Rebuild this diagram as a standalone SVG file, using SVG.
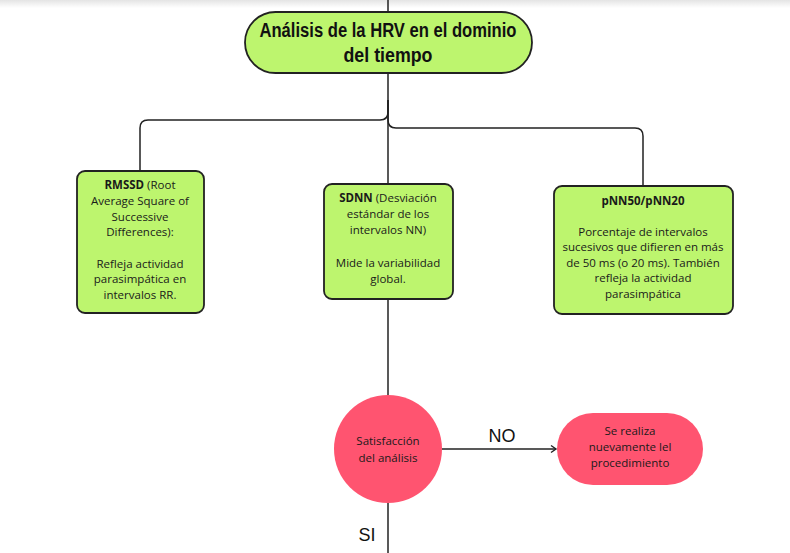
<svg xmlns="http://www.w3.org/2000/svg" width="790" height="553" viewBox="0 0 790 553">
<defs>
<linearGradient id="topshade" x1="0" y1="0" x2="0" y2="1">
<stop offset="0" stop-color="#e4e4e4"/>
<stop offset="1" stop-color="#ffffff"/>
</linearGradient>
<marker id="arrow" markerWidth="10" markerHeight="10" refX="8" refY="5" orient="auto" markerUnits="userSpaceOnUse">
<path d="M3,1.5 L8,5 L3,8.5" fill="none" stroke="#222" stroke-width="1.4"/>
</marker>
<style>
.conn{fill:none;stroke:#222;stroke-width:1.5}
.green{fill:#bdf56e;stroke:#222;stroke-width:1.8}
.red{fill:#ff5470;stroke:none}
.t{font-family:"Open Sans","Liberation Sans",sans-serif;font-size:11.5px;fill:#1a1a1a;text-anchor:middle}
.b{font-weight:bold}
.title{font-family:"Liberation Sans",sans-serif;font-weight:bold;font-size:20px;fill:#111;text-anchor:middle}
.lbl{font-family:"Liberation Sans",sans-serif;font-size:18px;fill:#111;text-anchor:middle}
</style>
</defs>
<rect x="0" y="0" width="790" height="553" fill="#ffffff"/>
<rect x="0" y="0" width="790" height="8" fill="url(#topshade)"/>
<g id="connectors">
<line class="conn" x1="388" y1="0" x2="388" y2="553"/>
<path class="conn" d="M388,100 V112 Q388,120 380,120 H148 Q140,120 140,128 V171"/>
<path class="conn" d="M388,100 V120 Q388,128 396,128 H635 Q643,128 643,136 V186"/>
<line class="conn" x1="442" y1="449" x2="556" y2="449" marker-end="url(#arrow)"/>
<text class="lbl" x="502" y="442">NO</text>
<text class="lbl" x="367" y="541">SI</text>
</g>
<g id="title">
<rect class="green" x="245" y="12" width="287" height="61" rx="30.5"/>
<text class="title" x="388" y="37" textLength="257" lengthAdjust="spacingAndGlyphs">Análisis de la HRV en el dominio</text>
<text class="title" x="388" y="62" textLength="89" lengthAdjust="spacingAndGlyphs">del tiempo</text>
</g>
<g id="rmssd">
<rect class="green" x="77" y="171" width="127" height="142" rx="8"/>
<text class="t" x="140" y="189"><tspan class="b">RMSSD</tspan> (Root</text>
<text class="t" x="140" y="205">Average Square of</text>
<text class="t" x="140" y="220.5">Successive</text>
<text class="t" x="140" y="236">Differences):</text>
<text class="t" x="140" y="267.5">Refleja actividad</text>
<text class="t" x="140" y="283">parasimpática en</text>
<text class="t" x="140" y="299">intervalos RR.</text>
</g>
<g id="sdnn">
<rect class="green" x="324" y="184" width="129" height="115" rx="8"/>
<text class="t" x="388" y="202"><tspan class="b">SDNN</tspan> (Desviación</text>
<text class="t" x="388" y="218">estándar de los</text>
<text class="t" x="388" y="234">intervalos NN)</text>
<text class="t" x="388" y="267">Mide la variabilidad</text>
<text class="t" x="388" y="283">global.</text>
</g>
<g id="pnn">
<rect class="green" x="554" y="186" width="179" height="128" rx="8"/>
<text class="t b" x="643" y="205">pNN50/pNN20</text>
<text class="t" x="643" y="235.5">Porcentaje de intervalos</text>
<text class="t" x="643" y="251">sucesivos que difieren en más</text>
<text class="t" x="643" y="266.5">de 50 ms (o 20 ms). También</text>
<text class="t" x="643" y="282">refleja la actividad</text>
<text class="t" x="643" y="298">parasimpática</text>
</g>
<g id="satisfaccion">
<circle class="red" cx="388" cy="449" r="54"/>
<text class="t" x="388" y="445" font-size="12">Satisfacción</text>
<text class="t" x="388" y="461.5" font-size="12">del análisis</text>
</g>
<g id="repetir">
<rect class="red" x="557" y="413" width="146" height="72" rx="36"/>
<text class="t" x="630" y="435">Se realiza</text>
<text class="t" x="630" y="451">nuevamente lel</text>
<text class="t" x="630" y="467">procedimiento</text>
</g>
</svg>
